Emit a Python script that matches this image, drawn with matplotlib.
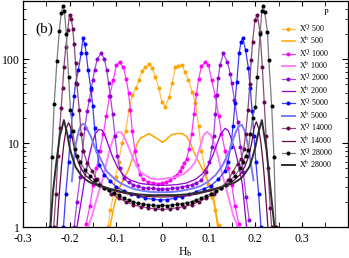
import matplotlib
matplotlib.use("Agg")
import matplotlib.pyplot as plt

plt.rcParams['font.family'] = ['Liberation Serif', 'DejaVu Serif']
plt.rcParams['mathtext.fontset'] = 'stix'

# chi^Q (with symbols) and chi^b (lines) vs H_b for several system sizes P
xq500_h = [-0.117, -0.112, -0.105, -0.101, -0.094, -0.087, -0.079, -0.072, -0.065, -0.057, -0.051, -0.044,
           -0.037, -0.029, -0.022, -0.015, -0.008, -0.001, 0.006, 0.014, 0.021, 0.028, 0.034, 0.042, 0.049,
           0.056, 0.064, 0.071, 0.078, 0.084, 0.092, 0.099, 0.106, 0.114, 0.121]
xq500_v = [1.0, 1.6, 2.5, 4.0, 6.0, 10, 14, 25, 37, 45, 56, 72, 81, 87, 78, 62, 45, 31, 27, 35, 52, 80, 84,
           85, 70, 56, 41, 30, 16, 8, 4.8, 3.3, 2.3, 1.6, 1.05]

xb500_h = [-0.113, -0.104, -0.094, -0.083, -0.073, -0.063, -0.054, -0.047, -0.040, -0.029, -0.019, -0.008,
           0.000, 0.008, 0.019, 0.031, 0.042, 0.052, 0.060, 0.069, 0.078, 0.092, 0.102, 0.111, 0.119]
xb500_v = [1.0, 1.8, 2.8, 3.8, 4.8, 7, 10, 11.5, 12, 13, 12, 11, 10.2, 11, 12.5, 13, 13, 12, 10, 7.5, 6,
           4.2, 3.0, 2.1, 1.0]

xq1000_h = [-0.164, -0.156, -0.149, -0.142, -0.135, -0.127, -0.121, -0.114, -0.106, -0.099, -0.092, -0.084,
            -0.078, -0.073, -0.069, -0.065, -0.059, -0.054, -0.049, -0.042, -0.031, -0.021, -0.010, 0.000,
            0.008, 0.017, 0.024, 0.031, 0.037, 0.042, 0.047, 0.052, 0.057, 0.063, 0.068, 0.073, 0.078,
            0.084, 0.092, 0.099, 0.106, 0.114, 0.121, 0.127, 0.135, 0.142, 0.149, 0.156, 0.164]
xq1000_v = [1.1, 1.8, 3.2, 5, 8, 13, 21, 36, 56, 85, 92, 80, 58, 40, 25, 14, 8, 5.5, 4.3, 3.7, 3.45, 3.35,
            3.3, 3.35, 3.4, 3.6, 3.9, 4.2, 4.6, 5.2, 5.8, 6.5, 8.5, 13, 22, 38, 58, 82, 92, 85, 56, 36, 21,
            13, 8, 5, 3.2, 1.8, 1.1]

xb1000_h = [-0.160, -0.151, -0.141, -0.130, -0.120, -0.112, -0.104, -0.096, -0.089, -0.081, -0.073, -0.062,
            -0.047, -0.026, -0.010, 0.010, 0.026, 0.046, 0.060, 0.071, 0.081, 0.089, 0.096, 0.104, 0.113,
            0.121, 0.131, 0.142, 0.152, 0.162]
xb1000_v = [1.0, 1.4, 2.2, 3.5, 6, 9, 12, 13.5, 13.5, 11.5, 9, 6.3, 4.5, 3.8, 3.7, 3.8, 3.9, 4.3, 5, 6, 9,
            12.5, 13.6, 12.5, 9.5, 6.5, 3.8, 2.3, 1.4, 1.0]

xq2000_h = [-0.190, -0.184, -0.177, -0.172, -0.167, -0.162, -0.157, -0.154, -0.150, -0.146, -0.140, -0.132,
            -0.125, -0.120, -0.116, -0.112, -0.107, -0.102, -0.097, -0.092, -0.083, -0.073, -0.063, -0.052,
            -0.042, -0.031, -0.021, -0.010, 0.000, 0.010, 0.021, 0.031, 0.042, 0.052, 0.063, 0.073, 0.083,
            0.094, 0.101, 0.107, 0.110, 0.114, 0.117, 0.120, 0.124, 0.131, 0.140, 0.146, 0.149, 0.155,
            0.162, 0.168, 0.174, 0.180, 0.187]
xq2000_v = [1.0, 2.0, 4.0, 8, 15, 24, 33, 43, 56, 74, 101, 117, 101, 74, 52, 36, 22, 12, 7, 5, 3.8, 3.4,
            3.2, 3.05, 2.95, 2.9, 2.88, 2.85, 2.85, 2.85, 2.9, 2.95, 3.0, 3.1, 3.2, 3.35, 3.6, 4.5, 6, 9, 12,
            22, 37, 59, 85, 117, 92, 67, 52, 33, 18, 9, 4.5, 2.3, 1.2]

xb2000_h = [-0.184, -0.175, -0.167, -0.159, -0.151, -0.144, -0.137, -0.130, -0.123, -0.115, -0.107, -0.097,
            -0.083, -0.068, -0.047, -0.026, -0.008, 0.010, 0.031, 0.052, 0.071, 0.086, 0.099, 0.110, 0.118,
            0.126, 0.135, 0.142, 0.149, 0.156, 0.164, 0.172, 0.181]
xb2000_v = [1.0, 2.0, 3.8, 6.5, 10, 13, 14.5, 14.3, 12, 9, 6.8, 5.2, 4.1, 3.6, 3.3, 3.2, 3.15, 3.15, 3.2,
            3.35, 3.7, 4.3, 5.5, 7.5, 10, 13, 15, 14, 11, 8.3, 5.5, 3.2, 1.0]

xq5000_h = [-0.213, -0.208, -0.202, -0.198, -0.194, -0.190, -0.187, -0.181, -0.175, -0.171, -0.167, -0.164,
            -0.160, -0.154, -0.150, -0.146, -0.141, -0.136, -0.125, -0.112, -0.099, -0.083, -0.068, -0.052,
            -0.037, -0.021, -0.005, 0.010, 0.026, 0.042, 0.057, 0.073, 0.089, 0.104, 0.120, 0.134, 0.141,
            0.147, 0.152, 0.156, 0.160, 0.165, 0.169, 0.173, 0.179, 0.185, 0.189, 0.193, 0.197, 0.201,
            0.207, 0.212]
xq5000_v = [1.0, 2.5, 6, 12, 22, 36, 52, 74, 117, 178, 150, 117, 74, 45, 28, 15, 8, 5.5, 4.2, 3.5, 3.0,
            2.7, 2.5, 2.35, 2.2, 2.15, 2.1, 2.12, 2.2, 2.3, 2.45, 2.65, 2.85, 3.1, 3.7, 4.6, 6, 9, 16, 30,
            53, 117, 160, 178, 128, 78, 45, 24, 12, 6, 2.5, 1.0]

xb5000_h = [-0.195, -0.191, -0.186, -0.180, -0.175, -0.170, -0.165, -0.160, -0.154, -0.146, -0.132, -0.120,
            -0.104, -0.089, -0.073, -0.057, -0.042, -0.026, -0.010, 0.005, 0.021, 0.037, 0.052, 0.068,
            0.083, 0.099, 0.115, 0.130, 0.144, 0.152, 0.159, 0.165, 0.171, 0.177, 0.183, 0.188, 0.192,
            0.196]
xb5000_v = [3.5, 6, 10, 14, 16.5, 17, 16, 14, 12, 9, 6.3, 4.6, 3.8, 3.3, 3.0, 2.8, 2.7, 2.62, 2.6, 2.6,
            2.62, 2.68, 2.78, 2.9, 3.1, 3.5, 4.2, 5.5, 8, 11, 14, 16, 16.5, 14, 10, 7, 5, 3.6]

xq14000_h = [-0.234, -0.229, -0.225, -0.221, -0.218, -0.215, -0.212, -0.208, -0.204, -0.200, -0.196,
             -0.193, -0.190, -0.187, -0.184, -0.179, -0.175, -0.170, -0.162, -0.151, -0.141, -0.125, -0.110,
             -0.094, -0.078, -0.063, -0.047, -0.031, -0.016, 0.000, 0.016, 0.031, 0.047, 0.063, 0.078,
             0.094, 0.110, 0.125, 0.141, 0.151, 0.162, 0.170, 0.175, 0.179, 0.184, 0.188, 0.191, 0.194,
             0.199, 0.204, 0.210, 0.215, 0.219, 0.223, 0.227, 0.232, 0.235]
xq14000_v = [1.0, 2.5, 7, 15, 26, 45, 81, 139, 220, 340, 300, 230, 150, 90, 50, 25, 13, 8, 5.8, 4.6, 3.7,
             2.95, 2.5, 2.2, 2.0, 1.85, 1.75, 1.7, 1.63, 1.62, 1.64, 1.7, 1.75, 1.85, 2.0, 2.2, 2.5, 2.9,
             3.6, 4.5, 5.7, 6.5, 8.5, 13, 25, 50, 97, 161, 290, 340, 210, 81, 31, 12, 5, 1.7, 1.0]

xb14000_h = [-0.227, -0.222, -0.217, -0.212, -0.207, -0.202, -0.197, -0.192, -0.186, -0.177, -0.167,
             -0.151, -0.130, -0.104, -0.078, -0.052, -0.026, 0.000, 0.026, 0.052, 0.078, 0.104, 0.130,
             0.151, 0.167, 0.177, 0.186, 0.192, 0.197, 0.202, 0.207, 0.212, 0.217, 0.222, 0.227]
xb14000_v = [1.0, 2.5, 5.5, 10, 15, 17.5, 15, 10, 7, 5.2, 4.2, 3.5, 3.0, 2.7, 2.5, 2.35, 2.3, 2.28, 2.3,
             2.35, 2.5, 2.7, 3.0, 3.5, 4.2, 5.2, 7, 10, 15, 18, 15, 10, 5.5, 2.5, 1.0]

xq28000_h = [-0.242, -0.238, -0.233, -0.227, -0.222, -0.218, -0.214, -0.211, -0.207, -0.202, -0.198,
             -0.193, -0.188, -0.183, -0.177, -0.167, -0.156, -0.146, -0.136, -0.125, -0.115, -0.104, -0.094,
             -0.083, -0.073, -0.063, -0.052, -0.042, -0.031, -0.021, -0.010, 0.000, 0.010, 0.021, 0.031,
             0.042, 0.052, 0.063, 0.073, 0.083, 0.094, 0.104, 0.115, 0.125, 0.136, 0.146, 0.156, 0.167,
             0.174, 0.179, 0.185, 0.189, 0.194, 0.200, 0.204, 0.210, 0.214, 0.217, 0.220, 0.226, 0.229,
             0.235, 0.240, 0.244]
xq28000_v = [1.0, 6.9, 29, 95, 215, 353, 427, 380, 200, 62, 25, 14, 8.5, 7.0, 6.0, 4.8, 4.1, 3.6, 3.2,
             2.95, 2.75, 2.55, 2.4, 2.2, 2.1, 2.0, 1.92, 1.88, 1.85, 1.82, 1.8, 1.83, 1.8, 1.84, 1.86, 1.9,
             1.95, 2.0, 2.1, 2.2, 2.35, 2.5, 2.7, 2.9, 3.2, 3.6, 4.1, 5.0, 6.0, 7.0, 8.3, 13, 20, 27, 62,
             200, 380, 427, 365, 210, 97, 28, 6.9, 1.0]

xb28000_h = [-0.241, -0.236, -0.229, -0.221, -0.212, -0.205, -0.200, -0.194, -0.187, -0.177, -0.169,
             -0.156, -0.140, -0.112, -0.083, -0.052, -0.026, 0.000, 0.026, 0.052, 0.083, 0.112, 0.140,
             0.156, 0.169, 0.177, 0.187, 0.194, 0.200, 0.206, 0.214, 0.224, 0.235, 0.241]
xb28000_v = [1.0, 2.5, 5.5, 12, 18.8, 13, 9, 6.8, 5.2, 4.3, 3.8, 3.4, 3.15, 2.85, 2.6, 2.45, 2.4, 2.4, 2.4,
             2.45, 2.6, 2.85, 3.15, 3.4, 3.8, 4.3, 5.2, 6.8, 9, 13, 18.8, 8.3, 2.1, 1.0]

fig = plt.figure(figsize=(3.49, 2.58), dpi=100)
ax = fig.add_axes([0.066, 0.12, 0.932, 0.878])

ms = 1.9
ax.plot(xq500_h, xq500_v, color='#FFC04D', lw=0.9, marker='o', ms=ms, mfc='#FFA500', mec='#FFA500',
        label=r'X$^{\mathrm{Q}}$ 500')
ax.plot(xb500_h, xb500_v, color='#FFA500', lw=1.1, label=r'X$^{\mathrm{b}}$ 500')
ax.plot(xq1000_h, xq1000_v, color='#FF40FF', lw=0.9, marker='o', ms=ms, mfc='#FF00FF', mec='#FF00FF',
        label=r'X$^{\mathrm{Q}}$ 1000')
ax.plot(xb1000_h, xb1000_v, color='#FF80FF', lw=1.4, label=r'X$^{\mathrm{b}}$ 1000')
ax.plot(xq2000_h, xq2000_v, color='#A848E0', lw=0.9, marker='o', ms=ms, mfc='#9400D3', mec='#9400D3',
        label=r'X$^{\mathrm{Q}}$ 2000')
ax.plot(xb2000_h, xb2000_v, color='#9400D3', lw=0.9, label=r'X$^{\mathrm{b}}$ 2000')
ax.plot(xq5000_h, xq5000_v, color='#3C3CFF', lw=0.9, marker='o', ms=ms, mfc='#0000FF', mec='#0000FF',
        label=r'X$^{\mathrm{Q}}$ 5000')
ax.plot(xb5000_h, xb5000_v, color='#7A7AFF', lw=1.4, label=r'X$^{\mathrm{b}}$ 5000')
ax.plot(xq14000_h, xq14000_v, color='#8C4A7C', lw=0.9, marker='o', ms=ms, mfc='#67074E', mec='#67074E',
        label=r'X$^{\mathrm{Q}}$ 14000')
ax.plot(xb14000_h, xb14000_v, color='#67074E', lw=0.9, label=r'X$^{\mathrm{b}}$ 14000')
ax.plot(xq28000_h, xq28000_v, color='#7A7A7A', lw=0.9, marker='o', ms=ms, mfc='black', mec='black',
        label=r'X$^{\mathrm{Q}}$ 28000')
ax.plot(xb28000_h, xb28000_v, color='#2E2E2E', lw=1.4, label=r'X$^{\mathrm{b}}$ 28000')

ax.set_yscale('log')
ax.set_xlim(-0.3, 0.4)
ax.set_ylim(1, 500)

ax.set_xticks([-0.3, -0.2, -0.1, 0.0, 0.1, 0.2, 0.3], ['-0.3', '-0.2', '-0.1', '0', '0.1', '0.2', '0.3'])
ax.set_xticks([-0.25, -0.15, -0.05, 0.05, 0.15, 0.25, 0.35], minor=True)
ax.set_yticks([1, 10, 100], ['1', '10', '100'])
ax.tick_params(which='both', direction='in', top=True, right=True, labelsize=8.5)
ax.tick_params(axis='x', which='both', length=3.5, pad=4.5)
ax.tick_params(axis='y', which='major', length=4, pad=2)
ax.tick_params(axis='y', which='minor', length=2.2)
for s in ax.spines.values():
    s.set_linewidth(0.9)

ax.set_xlabel(r'H$_{\mathrm{b}}$', fontsize=8.5, labelpad=0)
ax.text(0.065, 0.872, '(b)', transform=ax.transAxes, fontsize=11, ha='center', va='center')

ax.text(0.932, 0.943, 'P', transform=ax.transAxes, fontsize=6, ha='center', va='center')
ax.legend(loc='upper left', bbox_to_anchor=(0.795, 0.903), frameon=False, fontsize=5.8,
          handlelength=1.7, handletextpad=0.4, labelspacing=0.1, borderpad=0, borderaxespad=0)

fig.savefig('out.png', dpi=100)
